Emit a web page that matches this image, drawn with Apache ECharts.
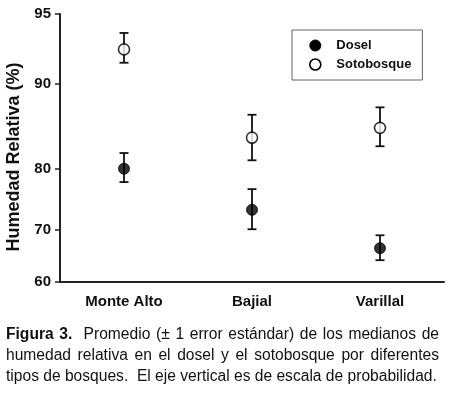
<!DOCTYPE html>
<html style="height: 100%">
<head>
	<meta charset="utf-8">
</head>
<body style="height: 100%; margin: 0; background: #fff">
<div id="container" style="width: 450px; height: 399px"></div>
<script type="text/javascript" src="https://cdn.jsdelivr.net/npm/echarts@6/dist/echarts.min.js"></script>
<script type="text/javascript">
    // data (percent relative humidity)
    var categories = ['Monte Alto', 'Bajial', 'Varillal'];
    var doselMean = [80.0, 73.5, 66.6];
    var doselLow = [78.0, 70.1, 64.3];
    var doselHigh = [82.2, 76.9, 69.0];
    var sotoMean = [92.8, 84.2, 85.4];
    var sotoLow = [91.8, 81.2, 83.1];
    var sotoHigh = [93.9, 86.9, 87.7];
    var yTicks = [60, 70, 80, 90, 95];
    var captionBold = 'Figura 3.';
    var captionLines = [
        'Promedio (± 1 error estándar) de los medianos de',
        'humedad relativa en el dosel y el sotobosque por diferentes',
        'tipos de bosques.  El eje vertical es de escala de probabilidad.'
    ];

    // probability scale: inverse normal CDF (Acklam)
    function probit(p) {
        var a = [-3.969683028665376e+01, 2.209460984245205e+02, -2.759285104469687e+02, 1.383577518672690e+02, -3.066479806614716e+01, 2.506628277459239e+00];
        var b = [-5.447609879822406e+01, 1.615858368580409e+02, -1.556989798598866e+02, 6.680131188771972e+01, -1.328068155288572e+01];
        var c = [-7.784894002430293e-03, -3.223964580411365e-01, -2.400758277161838e+00, -2.549732539343734e+00, 4.374664141464968e+00, 2.938163982698783e+00];
        var d = [7.784695709041462e-03, 3.224671290700398e-01, 2.445134137142996e+00, 3.754408661907416e+00];
        var q, r;
        if (p < 0.02425) {
            q = Math.sqrt(-2 * Math.log(p));
            return (((((c[0] * q + c[1]) * q + c[2]) * q + c[3]) * q + c[4]) * q + c[5]) / ((((d[0] * q + d[1]) * q + d[2]) * q + d[3]) * q + 1);
        }
        if (p > 1 - 0.02425) {
            q = Math.sqrt(-2 * Math.log(1 - p));
            return -(((((c[0] * q + c[1]) * q + c[2]) * q + c[3]) * q + c[4]) * q + c[5]) / ((((d[0] * q + d[1]) * q + d[2]) * q + d[3]) * q + 1);
        }
        q = p - 0.5;
        r = q * q;
        return (((((a[0] * r + a[1]) * r + a[2]) * r + a[3]) * r + a[4]) * r + a[5]) * q / (((((b[0] * r + b[1]) * r + b[2]) * r + b[3]) * r + b[4]) * r + 1);
    }
    function pz(pct) { return probit(pct / 100); }

    var tickZ = yTicks.map(pz);

    function pointData(means) {
        return means.map(function (v, i) { return [i, pz(v)]; });
    }
    function barData(low, high) {
        return low.map(function (v, i) { return [i, pz(v), pz(high[i])]; });
    }

    function renderErrorBar(params, api) {
        var x = api.value(0);
        var lo = api.coord([x, api.value(1)]);
        var hi = api.coord([x, api.value(2)]);
        var half = 4.5;
        var style = { stroke: '#111', lineWidth: 1.8 };
        return {
            type: 'group',
            children: [
                { type: 'line', shape: { x1: hi[0], y1: hi[1], x2: lo[0], y2: lo[1] }, style: style },
                { type: 'line', shape: { x1: hi[0] - half, y1: hi[1], x2: hi[0] + half, y2: hi[1] }, style: style },
                { type: 'line', shape: { x1: lo[0] - half, y1: lo[1], x2: lo[0] + half, y2: lo[1] }, style: style }
            ]
        };
    }

    // justified caption, word by word
    var FAMILY = 'Liberation Sans, Arial, sans-serif';
    var capSize = 15.6;
    var regFont = capSize + 'px ' + FAMILY;
    var boldCapFont = 'bold ' + capSize + 'px ' + FAMILY;
    var measureCtx = document.createElement('canvas').getContext('2d');
    function textWidth(str, font) {
        measureCtx.font = font;
        return measureCtx.measureText(str).width;
    }
    function captionLine(text, boldPrefix, y, x0, x1, justify) {
        var parts = [];
        if (boldPrefix) {
            boldPrefix.split(' ').forEach(function (w, i) {
                if (i > 0) parts.push({ space: 1 });
                parts.push({ word: w, font: boldCapFont });
            });
            parts.push({ space: 2 });
        }
        text.split(/( +)/).forEach(function (t) {
            if (!t) return;
            if (t.charAt(0) === ' ') parts.push({ space: t.length });
            else parts.push({ word: t, font: regFont });
        });
        var spaceW = textWidth(' ', regFont);
        var natural = 0, nSpaces = 0;
        parts.forEach(function (p) {
            if (p.word) natural += textWidth(p.word, p.font);
            else { natural += p.space * spaceW; nSpaces += p.space; }
        });
        var extra = justify && nSpaces ? (x1 - x0 - natural) / nSpaces : 0;
        var x = x0, els = [];
        parts.forEach(function (p) {
            if (p.word) {
                els.push({
                    type: 'text', x: x, y: y, silent: true,
                    style: { text: p.word, font: p.font, fill: '#111', align: 'left', verticalAlign: 'middle' }
                });
                x += textWidth(p.word, p.font);
            } else {
                x += p.space * (spaceW + extra);
            }
        });
        return els;
    }
    var captionEls = []
        .concat(captionLine(captionLines[0], captionBold, 335, 6, 439, true))
        .concat(captionLine(captionLines[1], null, 356, 6, 439, true))
        .concat(captionLine(captionLines[2], null, 377, 6, 439, false));

    var dom = document.getElementById('container');
    var myChart = echarts.init(dom, null, { renderer: 'canvas' });

    var boldFont = { fontFamily: FAMILY, fontWeight: 'bold', color: '#111' };
    var doselStyle = { color: '#000', borderColor: '#000', borderWidth: 1 };
    var sotoStyle = { color: '#fff', borderColor: '#000', borderWidth: 1.6 };

    var option = {
        backgroundColor: '#fff',
        animation: false,
        grid: { left: 60, right: 6, top: 14, bottom: 117, containLabel: false, outerBoundsMode: 'none' },
        legend: {
            orient: 'vertical',
            left: 292,
            top: 30,
            padding: [9, 11, 9, 17],
            itemGap: 6,
            itemWidth: 32,
            itemHeight: 11,
            borderColor: '#666',
            borderWidth: 1,
            textStyle: Object.assign({ fontSize: 13 }, boldFont),
            data: [
                { name: 'Dosel', icon: 'circle', itemStyle: doselStyle },
                { name: 'Sotobosque', icon: 'circle', itemStyle: sotoStyle }
            ]
        },
        xAxis: {
            type: 'category',
            data: categories,
            boundaryGap: true,
            axisLine: { lineStyle: { color: '#222', width: 2 } },
            axisTick: { show: false },
            axisLabel: Object.assign({ fontSize: 15, margin: 12 }, boldFont),
            splitLine: { show: false }
        },
        yAxis: {
            type: 'value',
            min: tickZ[0],
            max: tickZ[tickZ.length - 1],
            name: 'Humedad Relativa (%)',
            nameLocation: 'middle',
            nameGap: 34,
            nameTextStyle: Object.assign({ fontSize: 18, padding: [0, 18, 0, 0] }, boldFont),
            axisLine: { show: true, lineStyle: { color: '#222', width: 2 } },
            axisTick: { show: true, length: 5, customValues: tickZ, lineStyle: { color: '#222', width: 1.5 } },
            axisLabel: Object.assign({
                fontSize: 15,
                margin: 9,
                customValues: tickZ,
                formatter: function (v) {
                    for (var i = 0; i < tickZ.length; i++) {
                        if (Math.abs(tickZ[i] - v) < 1e-6) return String(yTicks[i]);
                    }
                    return '';
                }
            }, boldFont),
            splitLine: { show: false }
        },
        series: [
            {
                name: 'Dosel',
                type: 'custom',
                renderItem: renderErrorBar,
                data: barData(doselLow, doselHigh),
                encode: { x: 0, y: [1, 2] },
                z: 1,
                silent: true
            },
            {
                name: 'Sotobosque',
                type: 'custom',
                renderItem: renderErrorBar,
                data: barData(sotoLow, sotoHigh),
                encode: { x: 0, y: [1, 2] },
                z: 1,
                silent: true
            },
            {
                name: 'Dosel',
                type: 'scatter',
                symbol: 'circle',
                symbolSize: 11,
                itemStyle: doselStyle,
                data: pointData(doselMean),
                z: 3
            },
            {
                name: 'Sotobosque',
                type: 'scatter',
                symbol: 'circle',
                symbolSize: 11,
                itemStyle: sotoStyle,
                data: pointData(sotoMean),
                z: 3
            }
        ],
        graphic: captionEls
    };

    if (option && typeof option === 'object') {
        myChart.setOption(option, true);
    }
</script>
</body>
</html>
